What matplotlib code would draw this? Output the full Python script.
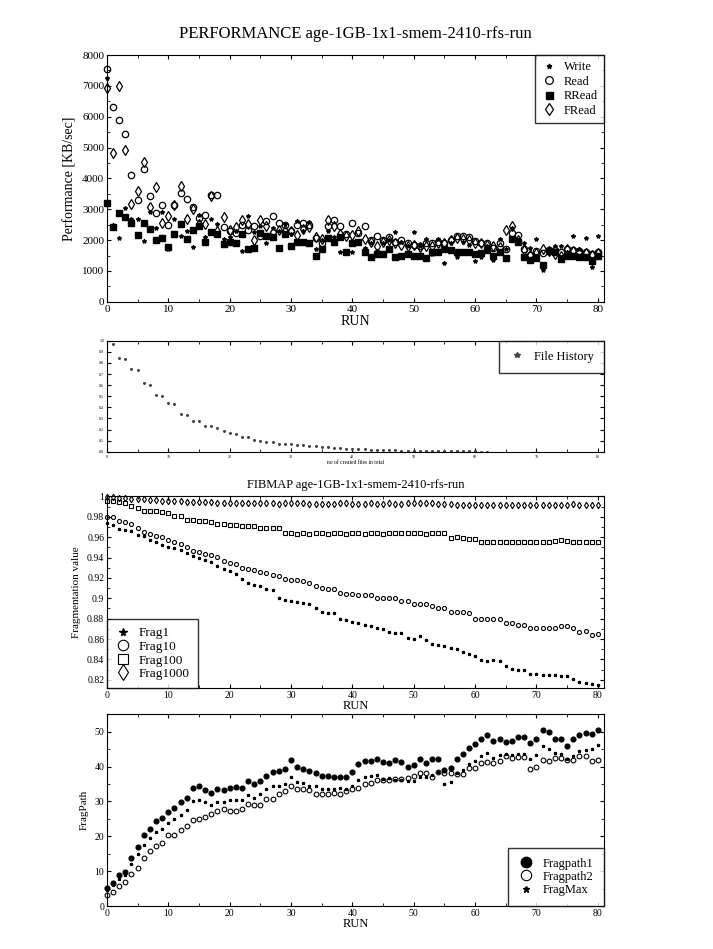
import numpy as np
import matplotlib
matplotlib.use("Agg")
import matplotlib.pyplot as plt
from matplotlib.ticker import MultipleLocator, FormatStrFormatter

plt.rcParams["font.family"] = ["Liberation Serif", "DejaVu Serif"]

runs = np.arange(81)

# performance [KB/sec]
write = [7245, 2500, 2070, 3040, 2700, 2684, 1983, 2900, 2400, 2900,
         1714, 2700, 2124, 2300, 1768, 2824, 2100, 2700, 2522, 2050,
         2100, 2300, 1660, 2770, 2253, 2458, 1908, 2400, 2300, 2510,
         2200, 2619, 2300, 2600, 1725, 2000, 2300, 2100, 1617, 1600,
         1600, 1950, 1750, 1900, 1650, 1900, 2000, 2250, 1950, 1800,
         2260, 1800, 2030, 1560, 2030, 1270, 1900, 1460, 1950, 1850,
         1330, 1460, 1800, 1350, 2030, 1700, 2400, 2000, 1900, 1750,
         2020, 1040, 1700, 1800, 1800, 1600, 2120, 1700, 2060, 1120,
         2120]
read = [7535, 6317, 5907, 5455, 4107, 3299, 4301, 3439, 2878, 3137,
        2490, 3137, 3536, 3342, 3083, 2717, 2814, 3450, 3460, 2415,
        2307, 2231, 2490, 2328, 2458, 2124, 2609, 2792, 2555, 2501,
        2296, 2501, 2566, 2501, 2059, 1908, 2450, 2652, 2468, 2200,
        2550, 2220, 2470, 1990, 2120, 2010, 2100, 1950, 2010, 1900,
        1850, 1810, 1900, 1920, 1950, 1920, 1990, 2120, 2140, 2100,
        1960, 1900, 1900, 1740, 1900, 1720, 2220, 2170, 1710, 1520,
        1660, 1580, 1680, 1680, 1630, 1720, 1680, 1660, 1600, 1540,
        1600]
rread = [3190, 2415, 2868, 2749, 2566, 2167, 2544, 2372, 1994, 2070,
         1790, 2199, 2523, 2048, 2339, 2458, 1930, 2264, 2199, 1876,
         1940, 1908, 2199, 1725, 1746, 2242, 2145, 2113, 1757, 2199,
         1811, 1930, 1940, 1908, 1488, 1703, 2080, 1940, 2113, 1630,
         1900, 1950, 1630, 1440, 1540, 1540, 1710, 1440, 1490, 1560,
         1490, 1500, 1410, 1630, 1600, 1720, 1680, 1600, 1600, 1630,
         1540, 1580, 1680, 1500, 1610, 1410, 2030, 1950, 1450, 1360,
         1410, 1200, 1650, 1630, 1380, 1500, 1470, 1450, 1450, 1310,
         1470]
fread = [6942, 4808, 7007, 4916, 3169, 3600, 4528, 3083, 3708, 2566,
         2781, 3137, 3741, 2673, 3000, 2533, 2533, 3417, 2285, 2738,
         2339, 2415, 2662, 2533, 2005, 2652, 2468, 2253, 2339, 2285,
         2285, 2156, 2361, 2425, 2113, 2050, 2662, 2447, 2200, 2140,
         2170, 2280, 2030, 1950, 1810, 1950, 2010, 1900, 1850, 1810,
         1850, 1780, 1810, 1810, 1920, 1920, 2010, 2060, 2030, 2010,
         1900, 1900, 1850, 1800, 1790, 2330, 2470, 2000, 1690, 1520,
         1580, 1700, 1660, 1560, 1490, 1700, 1650, 1620, 1570, 1520,
         1580]

# file history
hist_files = np.arange(1, 63)
hist_vals = [0.973, 0.843, 0.831, 0.743, 0.734, 0.616, 0.604, 0.514, 0.505, 0.435,
             0.426, 0.338, 0.332, 0.278, 0.275, 0.236, 0.230, 0.215, 0.190, 0.166,
             0.160, 0.130, 0.130, 0.103, 0.100, 0.088, 0.085, 0.073, 0.069, 0.066,
             0.063, 0.057, 0.054, 0.048, 0.045, 0.039, 0.036, 0.030, 0.027, 0.024,
             0.022, 0.021, 0.019, 0.017, 0.015, 0.013, 0.012, 0.011, 0.010, 0.009,
             0.008, 0.007, 0.006, 0.006, 0.005, 0.005, 0.004, 0.004, 0.003, 0.003,
             0.002, 0.002]

# fragmentation values
frag1 = [0.9735, 0.9718, 0.968, 0.9673, 0.9657, 0.9621, 0.9608, 0.9575, 0.9555, 0.9523,
         0.950, 0.949, 0.9474, 0.9445, 0.9419, 0.9396, 0.9376, 0.9353, 0.9321, 0.9288,
         0.9272, 0.9236, 0.919, 0.9148, 0.9135, 0.9125, 0.9093, 0.9083, 0.900, 0.898,
         0.897, 0.896, 0.895, 0.894, 0.890, 0.887, 0.886, 0.886, 0.880, 0.879,
         0.8767, 0.8757, 0.874, 0.8727, 0.8711, 0.8701, 0.8669, 0.8662, 0.8659, 0.8613,
         0.8604, 0.863, 0.8587, 0.8555, 0.8545, 0.8532, 0.8516, 0.8506, 0.8473, 0.8457,
         0.8434, 0.8398, 0.8388, 0.8398, 0.8382, 0.8333, 0.831, 0.8294, 0.8294, 0.8261,
         0.8261, 0.8245, 0.8245, 0.8245, 0.8235, 0.8235, 0.8212, 0.818, 0.8173, 0.8155,
         0.8145]
frag10 = [0.980, 0.9794, 0.9754, 0.9744, 0.973, 0.9686, 0.965, 0.963, 0.961, 0.960,
          0.9575, 0.9555, 0.9535, 0.950, 0.9464, 0.9457, 0.9435, 0.942, 0.9408, 0.937,
          0.9347, 0.9334, 0.930, 0.929, 0.9275, 0.926, 0.9248, 0.923, 0.9216, 0.919,
          0.9183, 0.9177, 0.917, 0.915, 0.9125, 0.910, 0.9095, 0.909, 0.905, 0.904,
          0.904, 0.9037, 0.9037, 0.9037, 0.900, 0.900, 0.900, 0.900, 0.8975, 0.8975,
          0.894, 0.894, 0.8945, 0.892, 0.890, 0.890, 0.887, 0.887, 0.887, 0.8855,
          0.880, 0.880, 0.880, 0.8795, 0.8795, 0.876, 0.876, 0.874, 0.874, 0.871,
          0.871, 0.871, 0.871, 0.871, 0.8725, 0.8725, 0.8712, 0.8667, 0.8683, 0.8642,
          0.8652]
frag100 = [0.995, 0.995, 0.994, 0.993, 0.991, 0.989, 0.986, 0.9855, 0.9855, 0.985,
           0.9835, 0.981, 0.981, 0.977, 0.9765, 0.976, 0.976, 0.975, 0.973, 0.9725,
           0.972, 0.972, 0.971, 0.971, 0.971, 0.969, 0.969, 0.9685, 0.9685, 0.964,
           0.964, 0.9635, 0.964, 0.9635, 0.964, 0.964, 0.9635, 0.964, 0.964, 0.9635,
           0.964, 0.964, 0.9635, 0.964, 0.964, 0.9635, 0.964, 0.964, 0.9645, 0.964,
           0.964, 0.964, 0.9635, 0.964, 0.964, 0.964, 0.9595, 0.960, 0.9595, 0.9585,
           0.9585, 0.955, 0.9555, 0.9555, 0.9555, 0.9555, 0.955, 0.955, 0.955, 0.955,
           0.955, 0.955, 0.9555, 0.9565, 0.957, 0.9565, 0.955, 0.955, 0.955, 0.955,
           0.955]
frag1000 = [0.9995, 0.999, 0.9985, 0.998, 0.9975, 0.997, 0.997, 0.9965, 0.996, 0.9955,
            0.9955, 0.995, 0.995, 0.9945, 0.9945, 0.994, 0.994, 0.994, 0.9935, 0.9935,
            0.993, 0.993, 0.993, 0.993, 0.993, 0.993, 0.993, 0.993, 0.9925, 0.993,
            0.993, 0.993, 0.993, 0.9925, 0.9925, 0.9925, 0.992, 0.9925, 0.993, 0.993,
            0.9925, 0.9925, 0.9925, 0.993, 0.9925, 0.9925, 0.993, 0.9925, 0.9925, 0.993,
            0.993, 0.993, 0.993, 0.993, 0.9925, 0.9925, 0.9925, 0.9915, 0.9915, 0.9915,
            0.9915, 0.9915, 0.9915, 0.9915, 0.9915, 0.9915, 0.9915, 0.9915, 0.9915, 0.9915,
            0.9915, 0.9915, 0.9915, 0.9915, 0.9915, 0.9915, 0.992, 0.9915, 0.9915, 0.9915,
            0.9915]

# fragmentation path
fragpath1 = [5.3, 6.6, 9.0, 9.9, 13.8, 17.0, 20.3, 22.2, 24.3, 25.2,
             27.1, 28.1, 29.7, 31.0, 34.0, 34.3, 33.3, 32.4, 33.5, 33.3,
             33.9, 34.1, 33.9, 35.8, 35.0, 35.9, 37.4, 38.5, 38.6, 39.4,
             41.8, 39.9, 39.4, 38.6, 38.3, 37.2, 37.2, 36.9, 36.9, 36.9,
             38.5, 40.8, 41.6, 41.6, 42.1, 41.3, 41.0, 42.0, 41.4, 40.0,
             40.4, 42.1, 41.1, 42.1, 42.1, 39.0, 39.5, 42.3, 43.7, 45.4,
             46.6, 47.9, 49.0, 47.2, 48.0, 47.0, 47.3, 48.5, 48.5, 46.8,
             48.0, 50.6, 49.8, 48.0, 48.0, 45.9, 48.0, 49.2, 49.5, 49.3,
             50.6]
fragpath2 = [3.1, 4.1, 5.7, 6.9, 9.2, 11.0, 13.8, 15.7, 17.1, 18.2,
             20.5, 20.5, 21.9, 22.9, 24.6, 25.0, 25.6, 26.5, 27.3, 27.7,
             27.4, 27.4, 27.7, 29.2, 29.0, 29.0, 30.6, 30.6, 32.1, 33.0,
             34.5, 33.7, 33.7, 33.4, 32.0, 32.1, 32.0, 32.4, 32.1, 32.9,
             33.5, 34.0, 35.0, 35.3, 36.1, 36.1, 36.1, 36.4, 36.3, 36.7,
             37.3, 38.3, 38.3, 36.9, 38.5, 38.1, 38.3, 38.0, 38.0, 39.7,
             39.7, 41.1, 41.2, 41.1, 41.6, 43.0, 42.4, 42.8, 42.8, 39.4,
             40.0, 42.0, 41.6, 42.6, 42.4, 41.9, 41.9, 43.0, 43.0, 41.7,
             41.9]
fragmax = [4.7, 5.9, 7.8, 9.0, 12.1, 15.0, 17.6, 19.5, 21.1, 22.1,
           23.9, 24.9, 26.1, 27.5, 30.2, 30.5, 29.7, 29.0, 29.7, 29.7,
           30.4, 30.5, 30.4, 31.9, 31.1, 32.0, 33.5, 34.3, 34.3, 35.1,
           37.1, 35.6, 35.3, 34.5, 34.3, 33.5, 33.5, 33.5, 33.8, 33.7,
           34.5, 36.2, 37.0, 37.2, 37.6, 36.4, 36.7, 36.2, 36.1, 35.9,
           35.9, 37.0, 36.9, 37.6, 38.5, 35.1, 35.7, 38.3, 39.0, 40.7,
           41.6, 43.0, 43.8, 42.6, 43.2, 43.5, 43.2, 43.7, 43.7, 42.1,
           43.3, 45.8, 45.0, 43.8, 43.5, 42.1, 43.0, 44.5, 44.7, 45.0,
           46.2]


def style_axis(ax, xminor=5, ymajor=None, yminor=None, size=8):
    ax.set_xlim(0, 81)
    ax.xaxis.set_major_locator(MultipleLocator(10))
    ax.xaxis.set_minor_locator(MultipleLocator(xminor))
    if ymajor:
        ax.yaxis.set_major_locator(MultipleLocator(ymajor))
    if yminor:
        ax.yaxis.set_minor_locator(MultipleLocator(yminor))
    ax.tick_params(which="both", direction="in", top=True, right=True,
                   labelsize=size, pad=2)
    ax.tick_params(which="major", length=3)
    ax.tick_params(which="minor", length=2)
    for spine in ax.spines.values():
        spine.set_linewidth(0.8)


def boxed_legend(ax, loc, size, **extra):
    leg = ax.legend(loc=loc, fontsize=size, frameon=True, fancybox=False,
                    borderaxespad=0, **extra)
    leg.get_frame().set_edgecolor("black")
    leg.get_frame().set_linewidth(1.0)
    return leg


fig = plt.figure(figsize=(7.13, 9.49), dpi=100)

# panel 1: performance
ax1 = fig.add_axes([0.150, 0.682, 0.697, 0.260])
kw = dict(linestyle="none", color="black", clip_on=False)
ax1.plot(runs, write, marker="*", markersize=3, label="Write", **kw)
ax1.plot(runs, read, marker="o", markersize=4.6, mfc="none", mew=0.9, label="Read", **kw)
ax1.plot(runs, rread, marker="s", markersize=4.2, label="RRead", **kw)
ax1.plot(runs, fread, marker="d", markersize=5.4, mfc="none", mew=0.9, label="FRead", **kw)
ax1.set_ylim(0, 8000)
style_axis(ax1, ymajor=1000, yminor=500)
ax1.set_xlabel("RUN", fontsize=10, labelpad=1)
ax1.set_ylabel("Performance [KB/sec]", fontsize=10)
ax1.set_title("PERFORMANCE age-1GB-1x1-smem-2410-rfs-run", fontsize=12, pad=12)
boxed_legend(ax1, "upper right", 9, handletextpad=0.6, labelspacing=0.2,
             borderpad=0.5, handlelength=1.2, markerscale=1.2)

# panel 2: file history
ax2 = fig.add_axes([0.150, 0.524, 0.697, 0.117])
ax2.plot(hist_files, hist_vals, linestyle="none", marker="*", markersize=1.6,
         color="#444444", label="File History")
ax2.set_ylim(0, 1.0)
style_axis(ax2, ymajor=0.1, size=3)
ax2.yaxis.set_major_formatter(FormatStrFormatter("%.1f"))
ax2.set_xlabel("no of created files in total", fontsize=4, labelpad=1)
boxed_legend(ax2, "upper right", 9, borderpad=0.8, handlelength=1.2,
             markerscale=2.5, handletextpad=0.8)

# panel 3: fragmentation
ax3 = fig.add_axes([0.150, 0.275, 0.697, 0.202])
kw3 = dict(linestyle="none", color="black", clip_on=False)
ax3.plot(runs, frag1, marker="*", markersize=2.2, label="Frag1", **kw3)
ax3.plot(runs, frag10, marker="o", markersize=2.9, mfc="none", mew=0.8, label="Frag10", **kw3)
ax3.plot(runs, frag100, marker="s", markersize=2.9, mfc="none", mew=0.8, label="Frag100", **kw3)
ax3.plot(runs, frag1000, marker="d", markersize=3.3, mfc="none", mew=0.8, label="Frag1000", **kw3)
ax3.set_ylim(0.812, 1.0)
style_axis(ax3, ymajor=0.02, yminor=0.01, size=7)
ax3.yaxis.set_major_formatter(FormatStrFormatter("%g"))
ax3.set_xlabel("RUN", fontsize=9, labelpad=0)
ax3.set_ylabel("Fragmentation value", fontsize=8)
ax3.set_title("FIBMAP age-1GB-1x1-smem-2410-rfs-run", fontsize=9, pad=6)
boxed_legend(ax3, "lower left", 9.5, labelspacing=0.1, handletextpad=0.6,
             borderpad=0.6, handlelength=1.2, markerscale=2.6)

# panel 4: fragpath
ax4 = fig.add_axes([0.150, 0.0453, 0.697, 0.202])
kw4 = dict(linestyle="none", color="black", clip_on=False)
ax4.plot(runs, fragpath1, marker="o", markersize=3.4, label="Fragpath1", **kw4)
ax4.plot(runs, fragpath2, marker="o", markersize=3.4, mfc="none", mew=0.8, label="Fragpath2", **kw4)
ax4.plot(runs, fragmax, marker="*", markersize=2.2, label="FragMax", **kw4)
ax4.set_ylim(0, 55)
style_axis(ax4, ymajor=10, yminor=5, size=7)
ax4.set_xlabel("RUN", fontsize=9, labelpad=0)
ax4.set_ylabel("FragPath", fontsize=8)
boxed_legend(ax4, "lower right", 9, labelspacing=0.1, handletextpad=0.8,
             borderpad=0.8, handlelength=1.2, markerscale=2.2)

fig.savefig("out.png", dpi=100)
